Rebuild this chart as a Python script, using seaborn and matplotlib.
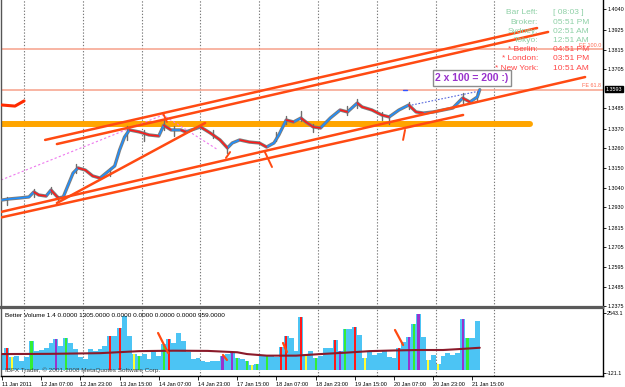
"""EURUSD H1 chart with trend channels and Better Volume pane (MetaTrader look)."""

import matplotlib

matplotlib.use("Agg")
import matplotlib.pyplot as plt
import matplotlib.transforms as mtransforms
import pandas as pd
import seaborn as sns
from matplotlib import font_manager

# hours counted from 11 Jan 2011 15:00 (weekend removed), closing prices
price_hours = [0, 3, 7, 11, 13, 15, 18, 20, 23, 25, 27, 29, 31, 34, 37, 40, 43, 46, 48, 50,
               52, 56, 60, 64, 66, 69, 73, 75, 81, 85, 89, 92, 94, 97, 101, 105, 108, 111, 113, 116,
               119, 122, 124, 127, 130, 134, 138, 141, 145, 147, 151, 155, 158, 162, 166, 169, 172, 176, 180, 184,
               188, 191, 194, 195]
price_close = [1.2971, 1.2977, 1.2982, 1.2988, 1.3016, 1.2999, 1.2993, 1.3027, 1.2982, 1.2988,
               1.3055, 1.3122, 1.3151, 1.3139, 1.3106, 1.3094, 1.3128, 1.3162, 1.3252, 1.3324,
               1.3364, 1.3353, 1.3336, 1.3330, 1.3390, 1.3364, 1.3364, 1.3353, 1.3381, 1.3347,
               1.3308, 1.3263, 1.3291, 1.3308, 1.3296, 1.3291, 1.3268, 1.3291, 1.3336, 1.3420,
               1.3409, 1.3431, 1.3409, 1.3381, 1.3375, 1.3431, 1.3476, 1.3465, 1.3515, 1.3493,
               1.3476, 1.3448, 1.3437, 1.3476, 1.3504, 1.3465, 1.3459, 1.3465, 1.3476, 1.3487,
               1.3543, 1.3521, 1.3549, 1.3590]

# a few visible bar extremes (hour, high, low)
spike_hours = [2, 13, 20, 23, 30, 44, 51, 58, 66, 70, 86, 92, 112, 116, 122, 127, 141, 145, 155, 158, 166, 188, 194]
spike_high = [1.2990, 1.3035, 1.3045, 1.2995, 1.3175, 1.3150, 1.3385, 1.3362, 1.3425, 1.3385, 1.3365, 1.3275,
              1.3350, 1.3445, 1.3470, 1.3400, 1.3500, 1.3540, 1.3465, 1.3450, 1.3520, 1.3570, 1.3575]
spike_low = [1.2945, 1.2990, 1.3005, 1.2965, 1.3125, 1.3105, 1.3310, 1.3300, 1.3365, 1.3330, 1.3320, 1.3235,
             1.3300, 1.3395, 1.3415, 1.3355, 1.3450, 1.3490, 1.3420, 1.3400, 1.3480, 1.3515, 1.3530]

# hand drawn objects: ([hour, hour], [price, price])
channel_top_a = ([17.6, 218.4], [1.3308, 1.3936])
channel_top_b = ([22.4, 222.9], [1.3285, 1.3914])
channel_low_a = ([-0.4, 238.0], [1.2904, 1.3661])
channel_low_b = ([-0.4, 188.2], [1.2873, 1.3448])
steep_line = ([22.4, 82.9], [1.2954, 1.3403])
support_band = ([0.0, 215.5], [1.3397, 1.3397])
fib_levels = [1.3818, 1.3590]
fib_names = ["FE 100.0", "FE 61.8"]
pink_path = ([-0.4, 65.7, 88.2], [1.3083, 1.3448, 1.3252])
blue_path = ([167.3, 195.1], [1.3504, 1.3583])
marks = [([65.7, 67.3], [1.3459, 1.3409]), ([93.1, 91.4], [1.3240, 1.3207]),
         ([107.3, 110.2], [1.3240, 1.3156]), ([164.5, 163.7], [1.3364, 1.3308])]
current_price = 1.3593

# Better Volume, one bar every two hours
vol_hours = list(range(0, 196, 2))
vol_values = [722, 1010, 577, 650, 433, 577, 1299, 866, 909, 1010, 1227, 1400, 1082, 1443, 1227, 938, 577, 505, 938, 866,
              938, 1082, 1515, 1515, 1876, 2400, 1515, 722, 650, 722, 505, 794, 650, 1155, 1371, 1227, 1660, 1299, 794, 505,
              534, 433, 361, 433, 433, 650, 722, 794, 534, 505,
              404, 216, 260, 693, 693, 620, 577, 1053, 1530, 1443, 837, 2352, 693, 837, 548, 620, 981, 981, 1342, 837,
              1847, 1847, 1919, 1558, 548, 837, 693, 765, 837, 577, 548, 981, 1270, 1486, 2063, 2500, 1486, 476, 693, 260,
              620, 765, 693, 765, 2280, 1414, 1414, 2208]
vol_kind = list("nrynnngnnn" "npngnnnnnn" "nnrnrnnygn" "nnngrnnnnn" "nnnnnpnpgn"
                "gygngnnrrn" "nryngnnnrp" "gnrnynnnnn" "nrnpgpnyny" "nnnnpgnn")
vol_ma_hours = [0, 20, 40, 56, 70, 84, 96, 100, 108, 120, 130, 140, 150, 160, 170, 180, 188, 195]
vol_ma_values = [720, 730, 760, 850, 870, 860, 800, 720, 650, 650, 720, 780, 850, 880, 900, 900, 950, 1000]
vol_marks = [([63.7, 67.8], [1656, 768]), ([90.2, 91.8], [679, 457]),
             ([114.7, 116.3], [1212, 812]), ([160.4, 163.7], [1789, 1123])]

price_ticks = [1.4040, 1.3925, 1.3815, 1.3705, 1.3485, 1.3370, 1.3260, 1.3150, 1.3040,
               1.2930, 1.2815, 1.2705, 1.2595, 1.2485, 1.2375]
date_labels = ["11 Jan 2011", "12 Jan 07:00", "12 Jan 23:00", "13 Jan 15:00", "14 Jan 07:00",
               "14 Jan 23:00", "17 Jan 15:00", "18 Jan 07:00", "18 Jan 23:00", "19 Jan 15:00",
               "20 Jan 07:00", "20 Jan 23:00", "21 Jan 15:00"]
date_hours = [0, 16, 32, 48, 64, 80, 96, 112, 128, 144, 160, 176, 192]
day_breaks = [9, 33, 57, 81, 105, 129, 153, 177, 201]

clock_names = ["Bar Left:", "Broker:", "Sydney:", "Tokyo:", "* Berlin:", "* London:", "* New York:"]
clock_times = ["[ 08:03 ]", "05:51 PM", "02:51 AM", "12:51 AM", "04:51 PM", "03:51 PM", "10:51 AM"]

TREND = "#FF4A12"
kind_colors = {"r": "#FF1A1A", "g": "#33EE33", "y": "#FFFF33", "p": "#9933CC"}

sns.set_theme(style="white")
plt.rcParams["font.family"] = ["Liberation Sans", "DejaVu Sans"]

installed = {f.name for f in font_manager.fontManager.ttflist}
if "Liberation Sans Narrow" in installed:
    SMALL_FONT, AXIS_SIZE, DATE_SIZE = "Liberation Sans Narrow", 4.8, 4.6
else:
    SMALL_FONT, AXIS_SIZE, DATE_SIZE = "Liberation Sans", 3.9, 4.0

W, H = 625, 387
fig = plt.figure(figsize=(6.25, 3.87), dpi=100)
ax = fig.add_axes([1 / W, 80 / H, 602 / W, 307 / H])
axv = fig.add_axes([1 / W, 11 / H, 602 / W, 68 / H])


def line(target, pts, **kw):
    sns.lineplot(x=pts[0], y=pts[1], ax=target, estimator=None, sort=False, **kw)


# --- price pane ---
for h in day_breaks:
    ax.axvline(h, color="#7A7A7A", lw=0.8, ls=(0, (1.2, 1.6)), zorder=0)
for lvl in fib_levels:
    ax.axhline(lvl, color="#F6A08A", lw=1.1, zorder=1)

line(ax, support_band, color="#FFA500", lw=4.3, zorder=2)
line(ax, pink_path, color="#EE77EE", lw=0.8, ls=(0, (2, 2)), zorder=2)

# gray bars: close path plus a few high/low wicks
sns.lineplot(x=price_hours, y=price_close, ax=ax, color="#7D7D7D", lw=2.4, zorder=3)
wicks = pd.DataFrame({
    "bar": list(range(len(spike_hours))) * 2,
    "hour": spike_hours * 2,
    "price": spike_high + spike_low,
})
sns.lineplot(data=wicks, x="hour", y="price", units="bar", estimator=None, color="#6E6E6E",
             lw=1.0, ax=ax, zorder=3)

rows = []
for i in range(len(price_hours) - 1):
    d = "up" if price_close[i + 1] >= price_close[i] else "down"
    rows.append({"seg": i, "hour": price_hours[i], "price": price_close[i], "dir": d})
    rows.append({"seg": i, "hour": price_hours[i + 1], "price": price_close[i + 1], "dir": d})
segs = pd.DataFrame(rows)
sns.lineplot(data=segs, x="hour", y="price", units="seg", hue="dir", estimator=None,
             palette={"up": "#1E8FFF", "down": "#FF1A1A"}, lw=1.1, legend=False, ax=ax, zorder=4)

for pts in (channel_top_a, channel_top_b, channel_low_a, channel_low_b, steep_line):
    line(ax, pts, color=TREND, lw=1.8, zorder=5)
for pts in marks:
    line(ax, pts, color=TREND, lw=1.4, zorder=5)
line(ax, blue_path, color="#5566DD", lw=0.8, ls=(0, (1.5, 1.5)), zorder=5)
line(ax, ([0.0, 5.3, 9.0], [1.3504, 1.3498, 1.3527]), color="#FF2A00", lw=2.2, zorder=5)
line(ax, ([163.7, 165.3], [1.3588, 1.3588]), color="#3355FF", lw=1.0, zorder=5)

ax.text(176.8, 1.3656, "2 x 100 = 200 :)", color="#9932CC", fontsize=7.5, fontweight="bold",
        ha="left", va="center", zorder=6,
        bbox=dict(boxstyle="square,pad=0.25", fc="white", ec="#8C8C8C", lw=1))

ax.set_xlim(-0.41, 245.3)
ax.set_ylim(1.23705, 1.40933)
ax.set_xticks([])
ax.yaxis.tick_right()
ax.set_yticks(price_ticks)
ax.set_yticklabels([f"{t:.4f}" for t in price_ticks], family=SMALL_FONT)
ax.tick_params(axis="y", direction="out", length=2, width=0.6, labelsize=AXIS_SIZE, pad=1,
               colors="black", right=True)
ax.set_xlabel("")
ax.set_ylabel("")

blend = mtransforms.blended_transform_factory(ax.transAxes, ax.transData)
ax.text(1.0045, current_price, f"{current_price:.4f}", transform=blend, color="white", fontsize=AXIS_SIZE,
        family=SMALL_FONT, ha="left", va="center",
        bbox=dict(boxstyle="square,pad=0.12", fc="black", ec="black"))
for lvl, name in zip(fib_levels, fib_names):
    ax.text(0.997, lvl + 0.0008, name, transform=blend, color="#FF6A50", fontsize=AXIS_SIZE,
            family=SMALL_FONT, ha="right", va="bottom")

# --- volume pane ---
for h in day_breaks:
    axv.axvline(h, color="#7A7A7A", lw=0.8, ls=(0, (1.2, 1.6)), zorder=0)
vol = pd.DataFrame({"hour": vol_hours, "volume": vol_values, "kind": vol_kind})
sns.barplot(data=vol, x="hour", y="volume", native_scale=True, color="#4CC4F4", saturation=1,
            width=1.0, errorbar=None, linewidth=0, ax=axv)
flag = vol[vol["kind"] != "n"]
sns.barplot(data=flag, x="hour", y="volume", hue="kind", palette=kind_colors, native_scale=True,
            saturation=1, width=0.45, errorbar=None, linewidth=0, dodge=False, legend=False, ax=axv)
sns.lineplot(x=vol_ma_hours, y=vol_ma_values, ax=axv, color="#8B1A2A", lw=1.5, zorder=5)
for pts in vol_marks:
    line(axv, pts, color=TREND, lw=1.6, zorder=6)

axv.set_xlim(-0.41, 245.3)
axv.set_ylim(-254, 2765)
axv.yaxis.tick_right()
axv.set_yticks([2543.1, -121.1])
axv.set_yticklabels(["2543.1", "-121.1"], family=SMALL_FONT)
axv.tick_params(axis="y", direction="out", length=2, width=0.6, labelsize=AXIS_SIZE, pad=1,
                colors="black", right=True)
axv.set_xticks(date_hours)
axv.set_xticklabels(date_labels, family=SMALL_FONT)
axv.tick_params(axis="x", direction="out", length=3, width=0.6, labelsize=DATE_SIZE, pad=1,
                colors="black", bottom=True)
for lbl in axv.get_xticklabels():
    lbl.set_horizontalalignment("left")
axv.set_xlabel("")
axv.set_ylabel("")

axv.text(0.006, 0.93, "Better Volume 1.4 0.0000 1305.0000 0.0000 0.0000 0.0000 0.0000 959.0000",
         transform=axv.transAxes, fontsize=4.6, color="black", ha="left", va="top")
axv.text(0.006, 0.05, "IBFX Trader, \u00a9 2001-2008 MetaQuotes Software Corp.",
         transform=axv.transAxes, fontsize=4.6, color="#404040", ha="left", va="bottom", zorder=7)

for a in (ax, axv):
    for side in ("left", "right", "top", "bottom"):
        a.spines[side].set_visible(True)
    a.spines["left"].set_color("#555555")
    a.spines["left"].set_linewidth(1.0)
    a.spines["right"].set_color("black")
    a.spines["right"].set_linewidth(1.0)
ax.spines["top"].set_visible(False)
ax.spines["bottom"].set_color("#5A5A5A")
ax.spines["bottom"].set_linewidth(1.6)
axv.spines["top"].set_color("#5A5A5A")
axv.spines["top"].set_linewidth(1.6)
axv.spines["bottom"].set_color("black")
axv.spines["bottom"].set_linewidth(1.0)

# clock panel in the top right corner
for i, (name, t) in enumerate(zip(clock_names, clock_times)):
    col = "#8ED0A6" if i < 4 else "#FF4646"
    y = 1 - (13 + 9.2 * i) / H
    fig.text(538 / W, y, name, color=col, fontsize=6, ha="right", va="center")
    fig.text(553 / W, y, t, color=col, fontsize=6, ha="left", va="center")

fig.savefig("out.png", dpi=100, facecolor="white")
